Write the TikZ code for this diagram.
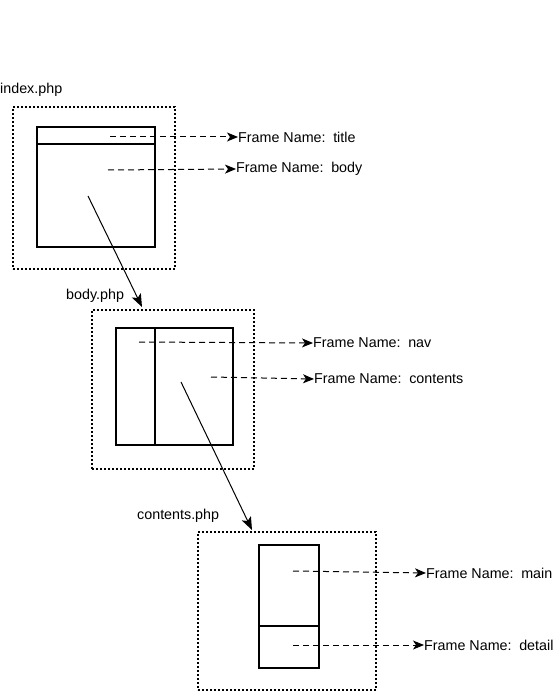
\documentclass[tikz,border=0pt]{standalone}
\usepackage{fontspec}
\setmainfont{Liberation Sans}
\usetikzlibrary{arrows.meta}
\begin{document}
\begin{tikzpicture}[x=1pt,y=-1pt,
  outer/.style={draw,line width=2pt,dash pattern=on 2pt off 2pt,rectangle,inner sep=0pt,anchor=north west},
  frame/.style={draw,line width=2pt,rectangle,inner sep=0pt,anchor=north west},
  lbl/.style={anchor=west,inner sep=0pt,font=\fontsize{14.3}{17}\selectfont},
  dasharrow/.style={line width=1pt,dash pattern=on 6pt off 4pt,-{Stealth[length=11pt,width=9pt,inset=3pt]}},
  linkarrow/.style={line width=1pt,-{Stealth[length=13pt,width=10pt,inset=3pt]}}]
\useasboundingbox (0,0) rectangle (557,692);
% index.php
\node[lbl] (lidx) at (0,90) {index.php};
\node[outer,minimum width=162pt,minimum height=162pt] (oidx) at (12,106) {};
\node[frame,minimum width=118pt,minimum height=120pt] (fidx) at (36,126) {};
\coordinate (dl) at (36,144); \coordinate (dr) at (154,144);
\draw[line width=2pt] (dl) -- (dr);
\node[lbl] (ttitle) at (238,137) {Frame Name:\, title};
\node[lbl] (tbody) at (236,169) {Frame Name:\, body};
\coordinate (stitle) at (110,137);
\coordinate (sbody) at (108,170);
\draw[dasharrow] (stitle) -- (ttitle.west);
\draw[dasharrow] (sbody) -- (tbody.west);
% body.php
\node[lbl] (lbody) at (66,296) {body.php};
\node[outer,minimum width=162pt,minimum height=159pt] (obody) at (91,309) {};
\node[frame,minimum width=117pt,minimum height=117pt] (fbody) at (115,327) {};
\coordinate (vt) at (155,327); \coordinate (vb) at (155,444);
\draw[line width=2pt] (vt) -- (vb);
\node[lbl] (tnav) at (313,343) {Frame Name:\, nav};
\node[lbl] (tcont) at (314,379) {Frame Name:\, contents};
\coordinate (snav) at (139,342);
\coordinate (scont) at (211,377);
\draw[dasharrow] (snav) -- (tnav.west);
\draw[dasharrow] (scont) -- (tcont.west);
% contents.php
\node[lbl] (lcont) at (137,516) {contents.php};
\node[outer,minimum width=178pt,minimum height=158pt] (ocont) at (197,531) {};
\node[frame,minimum width=60pt,minimum height=123pt] (fcont) at (258,544) {};
\coordinate (hl) at (258,626); \coordinate (hr) at (318,626);
\draw[line width=2pt] (hl) -- (hr);
\node[lbl] (tmain) at (426,573) {Frame Name:\, main};
\node[lbl] (tdet) at (424,645) {Frame Name:\, detail};
\coordinate (smain) at (293,571);
\coordinate (sdet) at (293,645);
\draw[dasharrow] (smain) -- (tmain.west);
\draw[dasharrow] (sdet) -- (tdet.west);
% links
\coordinate (s1) at (88,196);
\coordinate (e1) at (142,307);
\draw[linkarrow] (s1) -- (e1);
\coordinate (s2) at (181,382);
\coordinate (e2) at (252,530);
\draw[linkarrow] (s2) -- (e2);
\end{tikzpicture}
\end{document}
